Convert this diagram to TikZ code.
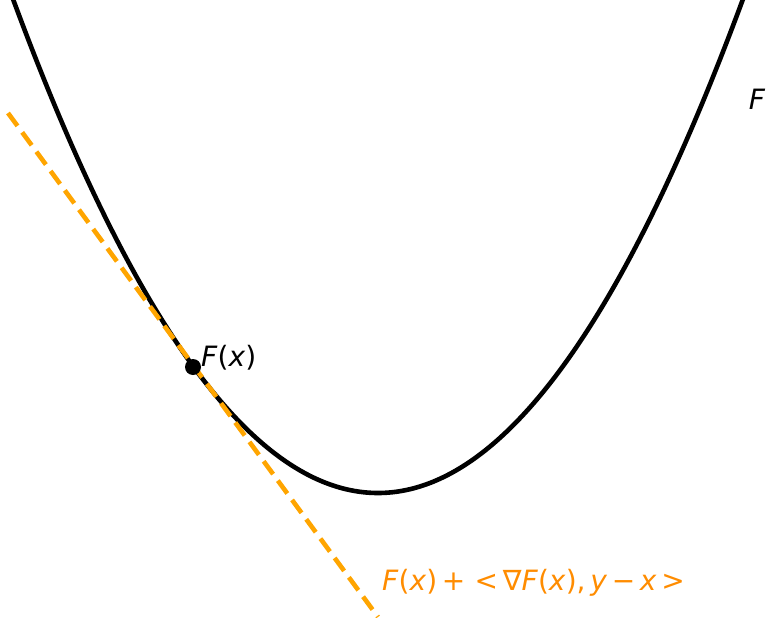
\documentclass[tikz,border=0pt]{standalone}
\usepackage{fontspec}
\setmainfont{DejaVu Sans}
\begin{document}
\begin{tikzpicture}[x=1pt,y=-1pt,
  curve/.style={line width=4.6pt,black},
  tangent/.style={line width=4.6pt,color={rgb,255:red,255;green,165;blue,0},dash pattern=on 16pt off 8pt},
  lbl/.style={font=\fontsize{28}{32}\selectfont,inner sep=0pt},
  dot/.style={circle,fill=black,inner sep=0pt,minimum size=16pt}]
\useasboundingbox (0,0) rectangle (768,618);
\begin{scope}
\clip (0,0) rectangle (768,618);
\draw[curve] plot[domain=10:748,samples=200,smooth] (\x,{493-0.003703*(\x-378)*(\x-378)});
\coordinate (t1) at (8,113);
\coordinate (t2) at (378,617);
\draw[tangent] (t1) -- (t2);
\end{scope}
\node[dot] (p) at (193,367) {};
\node[lbl,anchor=south west] (px) at (201,370) {\textit{F}(\textit{x})};
\node[lbl] (f) at (757,99) {\textit{F}};
\node[lbl,anchor=west,text={rgb,255:red,255;green,140;blue,0}] (g) at (382,583) {\textit{F}(\textit{x})\,+\,\,<\,∇\textit{F}(\textit{x}),\,\textit{y}\,−\,\textit{x}\,>};
\end{tikzpicture}
\end{document}
